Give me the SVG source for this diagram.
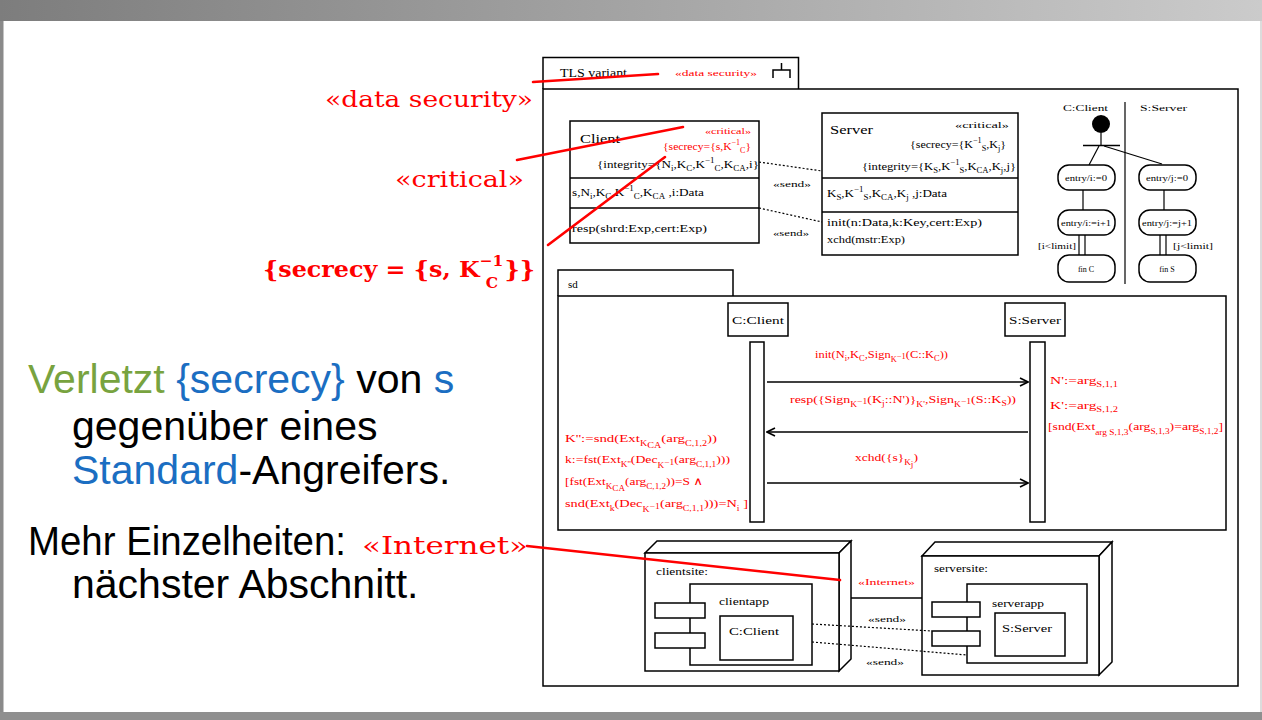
<svg xmlns="http://www.w3.org/2000/svg" width="1262" height="720" viewBox="0 0 1262 720">
<defs>
<linearGradient id="hdr" x1="0" x2="1" y1="0" y2="0"><stop offset="0" stop-color="#7d7d7d"/><stop offset="1" stop-color="#cbcbcb"/></linearGradient>
<marker id="oa" viewBox="0 0 10 10" refX="9" refY="5" markerWidth="10" markerHeight="10" orient="auto" markerUnits="userSpaceOnUse"><path d="M1,1 L9,5 L1,9" fill="none" stroke="#000" stroke-width="1.6"/></marker>
<style>
.f{font-family:"Liberation Serif","DejaVu Serif",serif;font-size:11px;fill:#000}
.a{font-family:"Liberation Serif","DejaVu Serif",serif;font-size:9px;fill:#000}
.a8{font-family:"Liberation Serif","DejaVu Serif",serif;font-size:8px;fill:#000}
.hd{font-family:"Liberation Serif","DejaVu Serif",serif;font-size:13.5px;fill:#000}
.r{fill:#f00}
.sb{font-size:7.5px}
.ln{stroke:#000;stroke-width:1.5;fill:none}
.thin{stroke:#000;stroke-width:1.2;fill:none}
.bx{stroke:#000;stroke-width:1.5;fill:#fff}
.rl{stroke:#f00;stroke-width:2.6;fill:none;stroke-linecap:round}
.dash{stroke:#000;stroke-width:1.2;stroke-dasharray:2,2;fill:none}
.big{font-family:"Liberation Sans",Arial,sans-serif;font-size:41px;fill:#000}
.lab{font-family:"DejaVu Serif","Liberation Serif",serif;fill:#f00}
.g{fill:#78a33f}
.b{fill:#1b6ec2}
.ctr{text-anchor:middle}
</style>
</defs>

<!-- slide frame -->
<g id="slide">
<rect x="0" y="0" width="1262" height="720" fill="#fff"/>
<rect x="0" y="0" width="1262" height="21" fill="url(#hdr)"/>
<rect x="0" y="21" width="3.5" height="699" fill="#8a8a8a"/>
<rect x="0" y="712" width="1262" height="8" fill="#8f8f8f"/>
<line x1="1261" y1="21" x2="1261" y2="712" stroke="#d0d0d0" stroke-width="1.5"/>
</g>

<!-- figure frame -->
<g id="frame">
<path class="ln" d="M543,89 V57.5 H798.5 V89"/>
<rect class="ln" x="543" y="89" width="695" height="597"/>
<text class="hd" x="560" y="77" textLength="67" lengthAdjust="spacingAndGlyphs">TLS variant</text>
<text class="a r" x="675" y="76" textLength="82" lengthAdjust="spacingAndGlyphs">«data security»</text>
<path class="ln" d="M773,78 V70 H790 V78 M781.5,70 V63"/>
</g>

<!-- Client class -->
<g id="client-class">
<rect class="ln" x="570" y="121" width="189" height="122"/>
<line class="ln" x1="570" y1="178" x2="759" y2="178"/>
<line class="ln" x1="570" y1="208" x2="759" y2="208"/>
<text class="hd" x="580" y="143" textLength="40" lengthAdjust="spacingAndGlyphs">Client</text>
<text class="a r" x="705" y="134" textLength="46" lengthAdjust="spacingAndGlyphs">«critical»</text>
<text class="f r" x="663" y="150" textLength="88" lengthAdjust="spacingAndGlyphs">{secrecy={s,K<tspan class="sb" dy="-5">−1</tspan><tspan class="sb" dy="8">C</tspan><tspan dy="-3">}</tspan></text>
<text class="f" x="597" y="168" textLength="162" lengthAdjust="spacingAndGlyphs">{integrity={N<tspan class="sb" dy="3">i</tspan><tspan dy="-3">,K</tspan><tspan class="sb" dy="3">C</tspan><tspan dy="-3">,K</tspan><tspan class="sb" dy="-5">−1</tspan><tspan class="sb" dy="8">C</tspan><tspan dy="-3">,K</tspan><tspan class="sb" dy="3">CA</tspan><tspan dy="-3">,i}</tspan></text>
<text class="f" x="572" y="196" textLength="132" lengthAdjust="spacingAndGlyphs">s,N<tspan class="sb" dy="3">i</tspan><tspan dy="-3">,K</tspan><tspan class="sb" dy="3">C</tspan><tspan dy="-3">,K</tspan><tspan class="sb" dy="-5">−1</tspan><tspan class="sb" dy="8">C</tspan><tspan dy="-3">,K</tspan><tspan class="sb" dy="3">CA</tspan><tspan dy="-3"> ,i:Data</tspan></text>
<text class="f" x="572" y="232" textLength="135" lengthAdjust="spacingAndGlyphs">resp(shrd:Exp,cert:Exp)</text>
</g>

<!-- Server class -->
<g id="server-class">
<rect class="ln" x="822" y="113" width="196" height="142"/>
<line class="ln" x1="822" y1="178" x2="1018" y2="178"/>
<line class="ln" x1="822" y1="212" x2="1018" y2="212"/>
<text class="hd" x="830" y="134" textLength="43" lengthAdjust="spacingAndGlyphs">Server</text>
<text class="a" x="955" y="128" textLength="54" lengthAdjust="spacingAndGlyphs">«critical»</text>
<text class="f" x="910" y="148" textLength="96" lengthAdjust="spacingAndGlyphs">{secrecy={K<tspan class="sb" dy="-5">−1</tspan><tspan class="sb" dy="8">S</tspan><tspan dy="-3">,K</tspan><tspan class="sb" dy="3">j</tspan><tspan dy="-3">}</tspan></text>
<text class="f" x="862" y="170" textLength="154" lengthAdjust="spacingAndGlyphs">{integrity={K<tspan class="sb" dy="3">S</tspan><tspan dy="-3">,K</tspan><tspan class="sb" dy="-5">−1</tspan><tspan class="sb" dy="8">S</tspan><tspan dy="-3">,K</tspan><tspan class="sb" dy="3">CA</tspan><tspan dy="-3">,K</tspan><tspan class="sb" dy="3">j</tspan><tspan dy="-3">,j}</tspan></text>
<text class="f" x="827" y="197" textLength="120" lengthAdjust="spacingAndGlyphs">K<tspan class="sb" dy="3">S</tspan><tspan dy="-3">,K</tspan><tspan class="sb" dy="-5">−1</tspan><tspan class="sb" dy="8">S</tspan><tspan dy="-3">,K</tspan><tspan class="sb" dy="3">CA</tspan><tspan dy="-3">,K</tspan><tspan class="sb" dy="3">j</tspan><tspan dy="-3"> ,j:Data</tspan></text>
<text class="f" x="827" y="226" textLength="155" lengthAdjust="spacingAndGlyphs">init(n:Data,k:Key,cert:Exp)</text>
<text class="f" x="827" y="243" textLength="78" lengthAdjust="spacingAndGlyphs">xchd(mstr:Exp)</text>
</g>

<!-- class connectors -->
<g id="class-connectors">
<line class="dash" x1="759" y1="162" x2="822" y2="171"/>
<line class="dash" x1="759" y1="208" x2="822" y2="222"/>
<text class="a" x="773" y="187" textLength="38" lengthAdjust="spacingAndGlyphs">«send»</text>
<text class="a" x="773" y="236" textLength="36" lengthAdjust="spacingAndGlyphs">«send»</text>
</g>

<!-- Activity diagram -->
<g id="activity">
<text class="a" x="1063" y="111" textLength="45" lengthAdjust="spacingAndGlyphs">C:Client</text>
<text class="a" x="1140" y="111" textLength="47" lengthAdjust="spacingAndGlyphs">S:Server</text>
<line class="thin" x1="1125" y1="102" x2="1125" y2="284"/>
<circle cx="1101" cy="124" r="9" fill="#000"/>
<line class="thin" x1="1101" y1="133" x2="1101" y2="145"/>
<line class="ln" x1="1083" y1="145.5" x2="1120" y2="145.5"/>
<line class="thin" x1="1099" y1="146" x2="1089" y2="165"/>
<line class="thin" x1="1104" y1="146" x2="1162" y2="164"/>
<rect class="bx" x="1058" y="165" width="57" height="25" rx="11"/>
<rect class="bx" x="1058" y="210" width="57" height="25" rx="11"/>
<rect class="bx" x="1058" y="255" width="57" height="27" rx="11"/>
<rect class="bx" x="1139" y="165" width="57" height="25" rx="11"/>
<rect class="bx" x="1139" y="210" width="57" height="25" rx="11"/>
<rect class="bx" x="1139" y="255" width="57" height="27" rx="11"/>
<line class="thin" x1="1083" y1="190" x2="1083" y2="210"/>
<line class="thin" x1="1164" y1="190" x2="1164" y2="210"/>
<line class="thin" x1="1079" y1="235" x2="1079" y2="255"/>
<line class="thin" x1="1085" y1="235" x2="1085" y2="255"/>
<line class="thin" x1="1160" y1="235" x2="1160" y2="255"/>
<line class="thin" x1="1166" y1="235" x2="1166" y2="255"/>
<text class="a8 ctr" x="1086" y="181" textLength="42" lengthAdjust="spacingAndGlyphs">entry/i:=0</text>
<text class="a8 ctr" x="1086" y="226" textLength="50" lengthAdjust="spacingAndGlyphs">entry/i:=i+1</text>
<text class="a8 ctr" x="1086" y="272">fin C</text>
<text class="a8 ctr" x="1167" y="181" textLength="42" lengthAdjust="spacingAndGlyphs">entry/j:=0</text>
<text class="a8 ctr" x="1167" y="226" textLength="50" lengthAdjust="spacingAndGlyphs">entry/j:=j+1</text>
<text class="a8 ctr" x="1167" y="272">fin S</text>
<text class="a8" x="1038" y="249" textLength="38" lengthAdjust="spacingAndGlyphs">[i&lt;limit]</text>
<text class="a8" x="1173" y="249" textLength="40" lengthAdjust="spacingAndGlyphs">[j&lt;limit]</text>
</g>

<!-- Sequence diagram -->
<g id="sequence">
<path class="ln" d="M558,296 V270 H733 V296"/>
<rect class="ln" x="558" y="296" width="668" height="234"/>
<text class="f" x="568" y="288">sd</text>
<g id="lifeline-client">
<rect class="ln" x="728" y="303" width="60" height="33"/>
<text class="f ctr" x="758" y="324" textLength="52" lengthAdjust="spacingAndGlyphs">C:Client</text>
<rect class="ln" x="750" y="342" width="14" height="180"/>
</g>
<g id="lifeline-server">
<rect class="ln" x="1005" y="303" width="60" height="33"/>
<text class="f ctr" x="1035" y="324" textLength="52" lengthAdjust="spacingAndGlyphs">S:Server</text>
<rect class="ln" x="1030" y="342" width="15" height="180"/>
</g>
<g id="messages">
<line class="ln" x1="767" y1="382" x2="1028" y2="382" marker-end="url(#oa)"/>
<line class="ln" x1="1028" y1="432" x2="767" y2="432" marker-end="url(#oa)"/>
<line class="ln" x1="767" y1="483" x2="1028" y2="483" marker-end="url(#oa)"/>
</g>
<text class="f r" x="815" y="358" textLength="133" lengthAdjust="spacingAndGlyphs">init(N<tspan class="sb" dy="3">i</tspan><tspan dy="-3">,K</tspan><tspan class="sb" dy="3">C</tspan><tspan dy="-3">,Sign</tspan><tspan class="sb" dy="4">K</tspan><tspan class="sb" dy="-3">−1</tspan><tspan dy="-1">(C::K</tspan><tspan class="sb" dy="3">C</tspan><tspan dy="-3">))</tspan></text>
<text class="f r" x="790" y="403" textLength="226" lengthAdjust="spacingAndGlyphs">resp({Sign<tspan class="sb" dy="4">K</tspan><tspan class="sb" dy="-3">−1</tspan><tspan dy="-1">(K</tspan><tspan class="sb" dy="3">j</tspan><tspan dy="-3">::N')}</tspan><tspan class="sb" dy="4">K'</tspan><tspan dy="-4">,Sign</tspan><tspan class="sb" dy="4">K</tspan><tspan class="sb" dy="-3">−1</tspan><tspan dy="-1">(S::K</tspan><tspan class="sb" dy="3">S</tspan><tspan dy="-3">))</tspan></text>
<text class="f r" x="855" y="461" textLength="63" lengthAdjust="spacingAndGlyphs">xchd({s}<tspan class="sb" dy="4">K</tspan><tspan class="sb" dy="2">j</tspan><tspan dy="-6">)</tspan></text>
<text class="f r" x="1050" y="384" textLength="68" lengthAdjust="spacingAndGlyphs">N':=arg<tspan class="sb" dy="3">S,1,1</tspan></text>
<text class="f r" x="1050" y="409" textLength="68" lengthAdjust="spacingAndGlyphs">K':=arg<tspan class="sb" dy="3">S,1,2</tspan></text>
<text class="f r" x="1048" y="430" textLength="175" lengthAdjust="spacingAndGlyphs">[snd(Ext<tspan class="sb" dy="5">arg S,1,3</tspan><tspan dy="-5">(arg</tspan><tspan class="sb" dy="4">S,1,3</tspan><tspan dy="-4">)=arg</tspan><tspan class="sb" dy="4">S,1,2</tspan><tspan dy="-4">]</tspan></text>
<text class="f r" x="565" y="442" textLength="152" lengthAdjust="spacingAndGlyphs">K'':=snd(Ext<tspan class="sb" dy="4">K</tspan><tspan class="sb" dy="2">CA</tspan><tspan dy="-6">(arg</tspan><tspan class="sb" dy="4">C,1,2</tspan><tspan dy="-4">))</tspan></text>
<text class="f r" x="565" y="463" textLength="165" lengthAdjust="spacingAndGlyphs">k:=fst(Ext<tspan class="sb" dy="4">K''</tspan><tspan dy="-4">(Dec</tspan><tspan class="sb" dy="5">K</tspan><tspan class="sb" dy="-3">−1</tspan><tspan dy="-2">(arg</tspan><tspan class="sb" dy="4">C,1,1</tspan><tspan dy="-4">)))</tspan></text>
<text class="f r" x="565" y="485" textLength="138" lengthAdjust="spacingAndGlyphs">[fst(Ext<tspan class="sb" dy="4">K</tspan><tspan class="sb" dy="2">CA</tspan><tspan dy="-6">(arg</tspan><tspan class="sb" dy="4">C,1,2</tspan><tspan dy="-4">))=S ∧</tspan></text>
<text class="f r" x="565" y="507" textLength="183" lengthAdjust="spacingAndGlyphs">snd(Ext<tspan class="sb" dy="4">k</tspan><tspan dy="-4">(Dec</tspan><tspan class="sb" dy="5">K</tspan><tspan class="sb" dy="-3">−1</tspan><tspan dy="-2">(arg</tspan><tspan class="sb" dy="4">C,1,1</tspan><tspan dy="-4">)))=N</tspan><tspan class="sb" dy="4">i</tspan><tspan dy="-4"> ]</tspan></text>
</g>

<!-- Deployment: clientsite -->
<g id="clientsite">
<path class="bx" d="M645,553 L657,541 H851 L839,553 Z"/>
<path class="bx" d="M839,553 L851,541 V659 L839,671 Z"/>
<rect class="bx" x="645" y="553" width="194" height="118"/>
<text class="f" x="656" y="575" textLength="52" lengthAdjust="spacingAndGlyphs">clientsite:</text>
<rect class="bx" x="690" y="584" width="122" height="81"/>
<rect class="bx" x="655" y="603" width="50" height="15"/>
<rect class="bx" x="655" y="633" width="50" height="15"/>
<text class="f" x="719" y="605" textLength="50" lengthAdjust="spacingAndGlyphs">clientapp</text>
<rect class="bx" x="720" y="616" width="73" height="44"/>
<text class="f" x="729" y="635" textLength="50" lengthAdjust="spacingAndGlyphs">C:Client</text>
</g>

<!-- Deployment: serversite -->
<g id="serversite">
<path class="bx" d="M922,556 L935,542 H1112 L1099,556 Z"/>
<path class="bx" d="M1099,556 L1112,542 V662 L1099,675 Z"/>
<rect class="bx" x="922" y="556" width="177" height="119"/>
<text class="f" x="934" y="572" textLength="54" lengthAdjust="spacingAndGlyphs">serversite:</text>
<rect class="bx" x="967" y="584" width="120" height="79"/>
<rect class="bx" x="932" y="602" width="48" height="15"/>
<rect class="bx" x="932" y="631" width="48" height="15"/>
<text class="f" x="992" y="607" textLength="52" lengthAdjust="spacingAndGlyphs">serverapp</text>
<rect class="bx" x="995" y="613" width="70" height="43"/>
<text class="f" x="1002" y="632" textLength="50" lengthAdjust="spacingAndGlyphs">S:Server</text>
</g>

<!-- Deployment connectors -->
<g id="deploy-connectors">
<line class="ln" x1="851" y1="598" x2="922" y2="598"/>
<line class="dash" x1="812" y1="624" x2="932" y2="631"/>
<line class="dash" x1="812" y1="642" x2="967" y2="655"/>
<text class="a r" x="858" y="585" textLength="57" lengthAdjust="spacingAndGlyphs">«Internet»</text>
<text class="a" x="868" y="622" textLength="38" lengthAdjust="spacingAndGlyphs">«send»</text>
<text class="a" x="866" y="665" textLength="38" lengthAdjust="spacingAndGlyphs">«send»</text>
</g>

<!-- Annotation labels and pointer lines -->
<g id="annotations">
<text class="lab" x="325" y="107" font-size="23" textLength="208" lengthAdjust="spacingAndGlyphs">«data security»</text>
<text class="lab" x="395" y="187" font-size="23" textLength="129" lengthAdjust="spacingAndGlyphs">«critical»</text>
<text class="lab" x="263" y="277" font-size="23" font-weight="bold" textLength="272" lengthAdjust="spacingAndGlyphs">{secrecy = {s, K<tspan font-size="15" dy="-11">−1</tspan><tspan font-size="15" dx="-17" dy="22">C</tspan><tspan dy="-11" dx="6">}}</tspan></text>
<line class="rl" x1="533" y1="82" x2="658" y2="74"/>
<line class="rl" x1="517" y1="160" x2="683" y2="127"/>
<line class="rl" x1="548" y1="245" x2="665" y2="157"/>
<line class="rl" x1="527" y1="546" x2="840" y2="580"/>
</g>

<!-- Slide text -->
<g id="slide-text">
<text class="big" x="28" y="393"><tspan class="g">Verletzt</tspan> <tspan class="b">{secrecy}</tspan> von <tspan class="b">s</tspan></text>
<text class="big" x="72" y="440">gegenüber eines</text>
<text class="big" x="72" y="484"><tspan class="b">Standard</tspan>-Angreifers.</text>
<text class="big" x="28" y="555" textLength="318" lengthAdjust="spacingAndGlyphs">Mehr Einzelheiten:</text>
<text class="lab" x="362" y="554" font-size="24" textLength="166" lengthAdjust="spacingAndGlyphs">«Internet»</text>
<text class="big" x="72" y="598">nächster Abschnitt.</text>
</g>
</svg>
